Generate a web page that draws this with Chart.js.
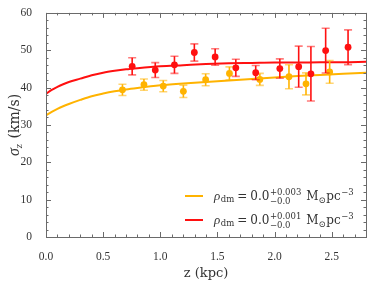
<!DOCTYPE html>
<html><head><meta charset="utf-8">
<script src="https://cdn.jsdelivr.net/npm/chart.js@4"></script>
<style>html,body{margin:0;padding:0;background:#fff}#wrap{width:374px;height:281px}</style>
</head><body><div id="wrap"><canvas id="c" width="374" height="281"></canvas></div>
<script>
// ---- data ----
const redZ   = [0.754,0.956,1.124,1.298,1.48,1.661,1.835,2.046,2.211,2.318,2.447,2.643];
const redSig = [45.7,44.7,46.1,49.4,48.2,45.3,44.0,45.1,45.6,43.7,49.9,50.8];
const redErr = [2.3,2.0,2.3,2.3,2.2,2.3,1.9,2.6,5.5,7.3,6.0,4.65];
const orgZ   = [0.669,0.857,1.026,1.202,1.397,1.605,1.871,2.126,2.275,2.482];
const orgSig = [39.4,40.8,40.4,39.0,42.1,43.8,42.2,42.9,41.0,44.2];
const orgErr = [1.5,1.5,1.5,1.65,1.6,1.75,1.6,3.2,2.95,3.05];
const curveZ   = [0,0.05,0.1,0.15,0.2,0.3,0.4,0.5,0.6,0.7,0.8,1.0,1.2,1.4,1.6,1.8,2.0,2.2,2.4,2.6,2.8];
const curveRed = [38.3,39.4,40.2,40.9,41.5,42.4,43.3,44.0,44.5,44.9,45.2,45.7,46.0,46.3,46.5,46.6,46.7,46.7,46.8,46.8,46.9];
const curveOrg = [32.6,33.5,34.3,35.0,35.6,36.7,37.7,38.4,39.0,39.5,39.9,40.6,41.1,41.5,41.9,42.3,42.7,43.1,43.4,43.7,44.0];
const xTicks = [0,0.5,1.0,1.5,2.0,2.5];
const yTicks = [0,10,20,30,40,50,60];
const legendLabels = [
  {sup:'+0.003', sub:'\u22120.0'},
  {sup:'+0.001', sub:'\u22120.0'}
];

const RED = '#ff1010', ORG = '#ffb300';
const SERIF = '"Liberation Serif", "DejaVu Serif", serif';
const DSERIF = '"DejaVu Serif", serif';

const pts = (xs, ys) => xs.map((x,i)=>({x:x, y:ys[i]}));

const errPlugin = {
  id:'err',
  afterDatasetsDraw(chart){
    const ctx = chart.ctx, xs = chart.scales.x, ys = chart.scales.y;
    const sets = [[orgZ,orgSig,orgErr,ORG,'rgba(255,179,0,0.55)'],[redZ,redSig,redErr,RED,'rgba(255,16,16,0.55)']];
    ctx.save();
    sets.forEach(([zs,ss,es,col,capCol])=>{
      zs.forEach((z,i)=>{
        const px = xs.getPixelForValue(z);
        const y1 = ys.getPixelForValue(ss[i]+es[i]);
        const y2 = ys.getPixelForValue(ss[i]-es[i]);
        ctx.strokeStyle = col; ctx.lineWidth = 1.6;
        ctx.beginPath(); ctx.moveTo(px,y1); ctx.lineTo(px,y2); ctx.stroke();
        ctx.strokeStyle = capCol; ctx.lineWidth = 1.6;
        ctx.beginPath(); ctx.moveTo(px-4,y1); ctx.lineTo(px+4,y1);
        ctx.moveTo(px-4,y2); ctx.lineTo(px+4,y2); ctx.stroke();
        ctx.fillStyle = col;
        ctx.beginPath(); ctx.arc(px, ys.getPixelForValue(ss[i]), 3.4, 0, Math.PI*2); ctx.fill();
      });
    });
    ctx.restore();
  }
};

const framePlugin = {
  id:'frame',
  afterDraw(chart){
    const ctx = chart.ctx, a = chart.chartArea, xs = chart.scales.x, ys = chart.scales.y;
    ctx.save();
    ctx.strokeStyle = '#6a6a6a'; ctx.lineWidth = 1;
    ctx.strokeRect(Math.round(a.left)+0.5, Math.round(a.top)+0.5, Math.round(a.right-a.left), Math.round(a.bottom-a.top));
    ctx.beginPath();
    for (let v=0; v<=2.8001; v+=0.1){
      const p = Math.round(xs.getPixelForValue(v))+0.5;
      const major = Math.abs(v/0.5 - Math.round(v/0.5))<1e-6;
      const L = major?5:2.5;
      ctx.moveTo(p,a.bottom); ctx.lineTo(p,a.bottom-L);
      ctx.moveTo(p,a.top); ctx.lineTo(p,a.top+L);
    }
    for (let v=0; v<=60.001; v+=2){
      const p = Math.round(ys.getPixelForValue(v))+0.5;
      const major = v%10===0;
      const L = major?5:2.5;
      ctx.moveTo(a.left,p); ctx.lineTo(a.left+L,p);
      ctx.moveTo(a.right,p); ctx.lineTo(a.right-L,p);
    }
    ctx.stroke();

    // y title
    ctx.fillStyle = '#333';
    ctx.translate(14, (a.top+a.bottom)/2);
    ctx.rotate(-Math.PI/2);
    ctx.textBaseline = 'alphabetic';
    ctx.font = 'italic 16px ' + SERIF;
    const w1 = ctx.measureText('\u03c3').width;
    ctx.font = 'italic 11px ' + SERIF;
    const w2 = ctx.measureText('z').width + 1;
    ctx.font = '14px ' + DSERIF;
    const w3 = ctx.measureText(' (km/s)').width;
    let x0 = -(w1+w2+w3)/2;
    ctx.font = 'italic 16px ' + SERIF; ctx.textAlign='left';
    ctx.fillText('\u03c3', x0, 5); x0 += w1;
    ctx.font = 'italic 11px ' + SERIF; ctx.fillText('z', x0, 8); x0 += w2;
    ctx.font = '14px ' + DSERIF; ctx.fillText(' (km/s)', x0, 5);
    ctx.restore();

    // legend
    ctx.save();
    const lx = a.right - 181;
    const rows = [[ORG, 196, legendLabels[0]], [RED, 220, legendLabels[1]]];
    rows.forEach(([col, y, lab])=>{
      ctx.strokeStyle = col; ctx.lineWidth = 2;
      ctx.beginPath(); ctx.moveTo(lx, y); ctx.lineTo(lx+18, y); ctx.stroke();
      ctx.fillStyle = '#333'; ctx.textAlign='left'; ctx.textBaseline='alphabetic';
      let x = lx + 29; const base = y + 3.5;
      const put = (t, font, dy, extra) => { ctx.font = font; ctx.fillText(t, x, base+dy); const w = ctx.measureText(t).width; x += w + (extra||0); return w; };
      put('\u03c1', 'italic 13px '+SERIF, 0, 0.5);
      put('dm', '8.5px '+DSERIF, 2.5, 3);
      put('=', '12px '+DSERIF, 0, 3);
      put('0.0', '12px '+DSERIF, 0, 0.5);
      const sx = x;
      ctx.font = '8.5px '+DSERIF;
      const ws = ctx.measureText(lab.sup).width;
      ctx.fillText(lab.sup, sx, base-5);
      ctx.fillText(lab.sub, sx, base+4);
      x = sx + ws + 5;
      put('M', '12px '+DSERIF, 0, 0);
      put('\u2299', '8.5px '+DSERIF, 3, 0.5);
      put('pc', '12px '+DSERIF, 0, 0.5);
      put('\u22123', '8.5px '+DSERIF, -5);
    });
    ctx.restore();
  }
};

new Chart(document.getElementById('c'), {
  type:'scatter',
  data:{ datasets:[
    {data:pts(curveZ,curveOrg), showLine:true, borderColor:ORG, borderWidth:2, pointRadius:0, cubicInterpolationMode:'monotone', order:2},
    {data:pts(curveZ,curveRed), showLine:true, borderColor:RED, borderWidth:2, pointRadius:0, cubicInterpolationMode:'monotone', order:1}
  ]},
  options:{
    responsive:false, animation:false, devicePixelRatio:1,
    layout:{padding:{top:7,right:8,left:0,bottom:0}},
    plugins:{legend:{display:false}, tooltip:{enabled:false}},
    scales:{
      x:{type:'linear', min:0, max:2.8,
        afterBuildTicks:s=>{s.ticks = xTicks.map(v=>({value:v}));},
        afterFit:s=>{s.height = 44;},
        grid:{display:false}, border:{display:false},
        ticks:{font:{family:SERIF,size:11.5}, color:'#333', padding:5, maxRotation:0, callback:v=>v.toFixed(1)},
        title:{display:true, text:'z (kpc)', font:{family:DSERIF,size:13}, color:'#333', padding:{top:1,bottom:0}}
      },
      y:{type:'linear', min:0, max:60,
        afterBuildTicks:s=>{s.ticks = yTicks.map(v=>({value:v}));},
        afterFit:s=>{s.width = 46;},
        grid:{display:false}, border:{display:false},
        ticks:{font:{family:SERIF,size:11.5}, color:'#333', padding:6}
      }
    }
  },
  plugins:[errPlugin, framePlugin]
});
</script></body></html>
